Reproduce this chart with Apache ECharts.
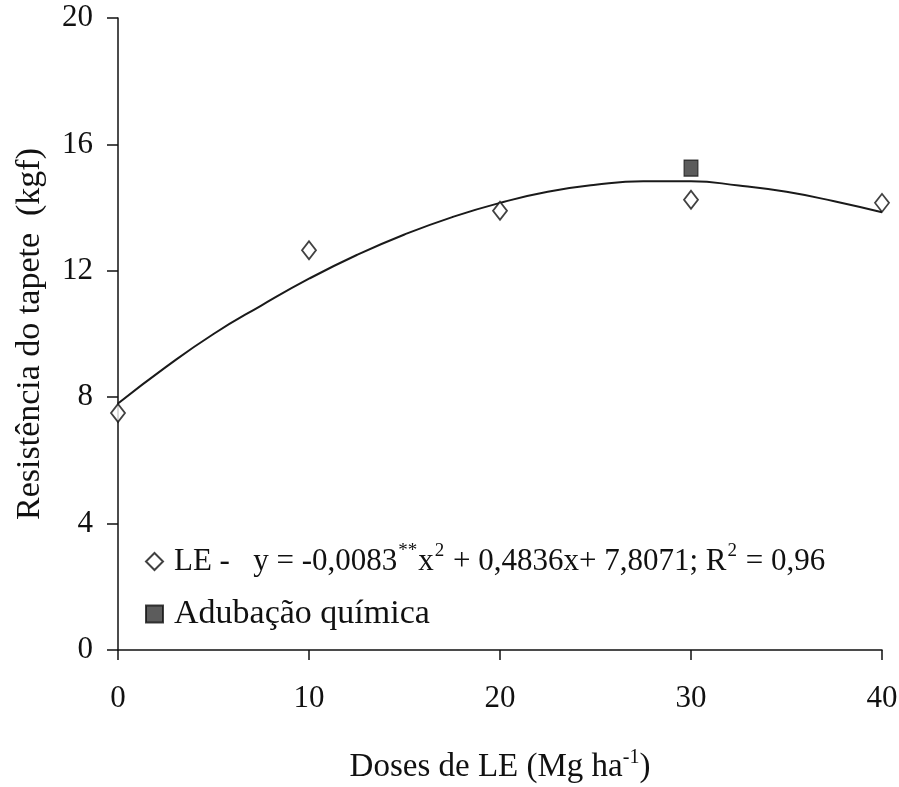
<!DOCTYPE html>
<html><head><meta charset="utf-8">
<script src="https://cdn.jsdelivr.net/npm/echarts@6/dist/echarts.min.js"></script>
<style>html,body{margin:0;padding:0;background:#fff}#c{width:899px;height:787px}</style>
</head><body><div id="c"></div>
<script>
// Observed data
const doses = [0, 10, 20, 30, 40];
const leValues = [7.5, 12.65, 13.9, 14.25, 14.15];
const adubDose = [30];
const adubValues = [15.25];
// Trend line
const curveX = [0, 2.5, 5, 7.5, 10, 12.5, 15, 17.5, 20, 22.5, 25, 27.5, 30, 32.5, 35, 37.5, 40];
const curveY = [7.8, 8.95, 10.0, 10.9, 11.75, 12.5, 13.15, 13.7, 14.15, 14.5, 14.72, 14.83, 14.83, 14.7, 14.5, 14.2, 13.85];
const xTicks = [0, 10, 20, 30, 40];
const yTicks = [0, 4, 8, 12, 16, 20];

const FONT = 'Liberation Serif';
const chart = echarts.init(document.getElementById('c'));
chart.setOption({
  animation: false,
  backgroundColor: '#fff',
  grid: {left: 118, right: 17, top: 18, bottom: 137, outerBoundsMode: 'none', containLabel: false},
  xAxis: {
    type: 'value', min: 0, max: 40, interval: 10,
    name: 'Doses de LE (Mg ha{sup|-1})',
    nameLocation: 'middle', nameGap: 98,
    nameTextStyle: {fontFamily: FONT, fontSize: 33, color: '#111',
      rich: {sup: {fontFamily: FONT, fontSize: 20, color: '#111', padding: [0,0,18,0]}}},
    axisLine: {lineStyle: {color: '#111', width: 1.5}},
    axisTick: {show: true, inside: false, length: 10, lineStyle: {color: '#111', width: 1.5}},
    axisLabel: {fontFamily: FONT, fontSize: 31, color: '#111', margin: 33,
      formatter: v => xTicks.includes(v) ? String(v) : ''},
    splitLine: {show: false}
  },
  yAxis: {
    type: 'value', min: 0, max: 20, interval: 4,
    name: 'Resistência do tapete  (kgf)',
    nameLocation: 'middle', nameGap: 71,
    nameTextStyle: {fontFamily: FONT, fontSize: 34, color: '#111'},
    axisLine: {lineStyle: {color: '#111', width: 1.5}},
    axisTick: {show: true, inside: false, length: 11, lineStyle: {color: '#111', width: 1.5}},
    axisLabel: {fontFamily: FONT, fontSize: 31, color: '#111', margin: 25,
      formatter: v => yTicks.includes(v) ? String(v) : ''},
    splitLine: {show: false}
  },
  legend: {
    orient: 'vertical', left: 140, top: 537, itemGap: 16,
    itemWidth: 17, itemHeight: 17,
    data: ['LE', 'Adubação química'],
    formatter: function (name) {
      if (name === 'LE') return 'LE -   y = -0,0083{sup|**}x{sup|2} + 0,4836x+ 7,8071; R{sup|2} = 0,96';
      return '{big|' + name + '}';
    },
    textStyle: {fontFamily: FONT, fontSize: 31, color: '#111', lineHeight: 32, padding: [0, 0, 0, 6],
      rich: {
        sup: {fontFamily: FONT, fontSize: 19, color: '#111', lineHeight: 32, padding: [0,1,20,1]},
        big: {fontFamily: FONT, fontSize: 34, color: '#111', lineHeight: 32}
      }}
  },
  series: [
    {
      name: 'trend', type: 'line', data: curveX.map((x, i) => [x, curveY[i]]),
      smooth: true, showSymbol: false, symbol: 'none',
      lineStyle: {color: '#1a1a1a', width: 2}, z: 1, silent: true
    },
    {
      name: 'LE', type: 'scatter', data: doses.map((x, i) => [x, leValues[i]]),
      symbol: 'diamond', symbolSize: [14, 18],
      itemStyle: {color: '#fff', borderColor: '#111', borderWidth: 1.8}, z: 3
    },
    {
      name: 'Adubação química', type: 'scatter', data: adubDose.map((x, i) => [x, adubValues[i]]),
      symbol: 'rect', symbolSize: [14, 16],
      itemStyle: {color: '#333', borderColor: '#111', borderWidth: 1}, z: 3
    }
  ]
});
</script></body></html>
